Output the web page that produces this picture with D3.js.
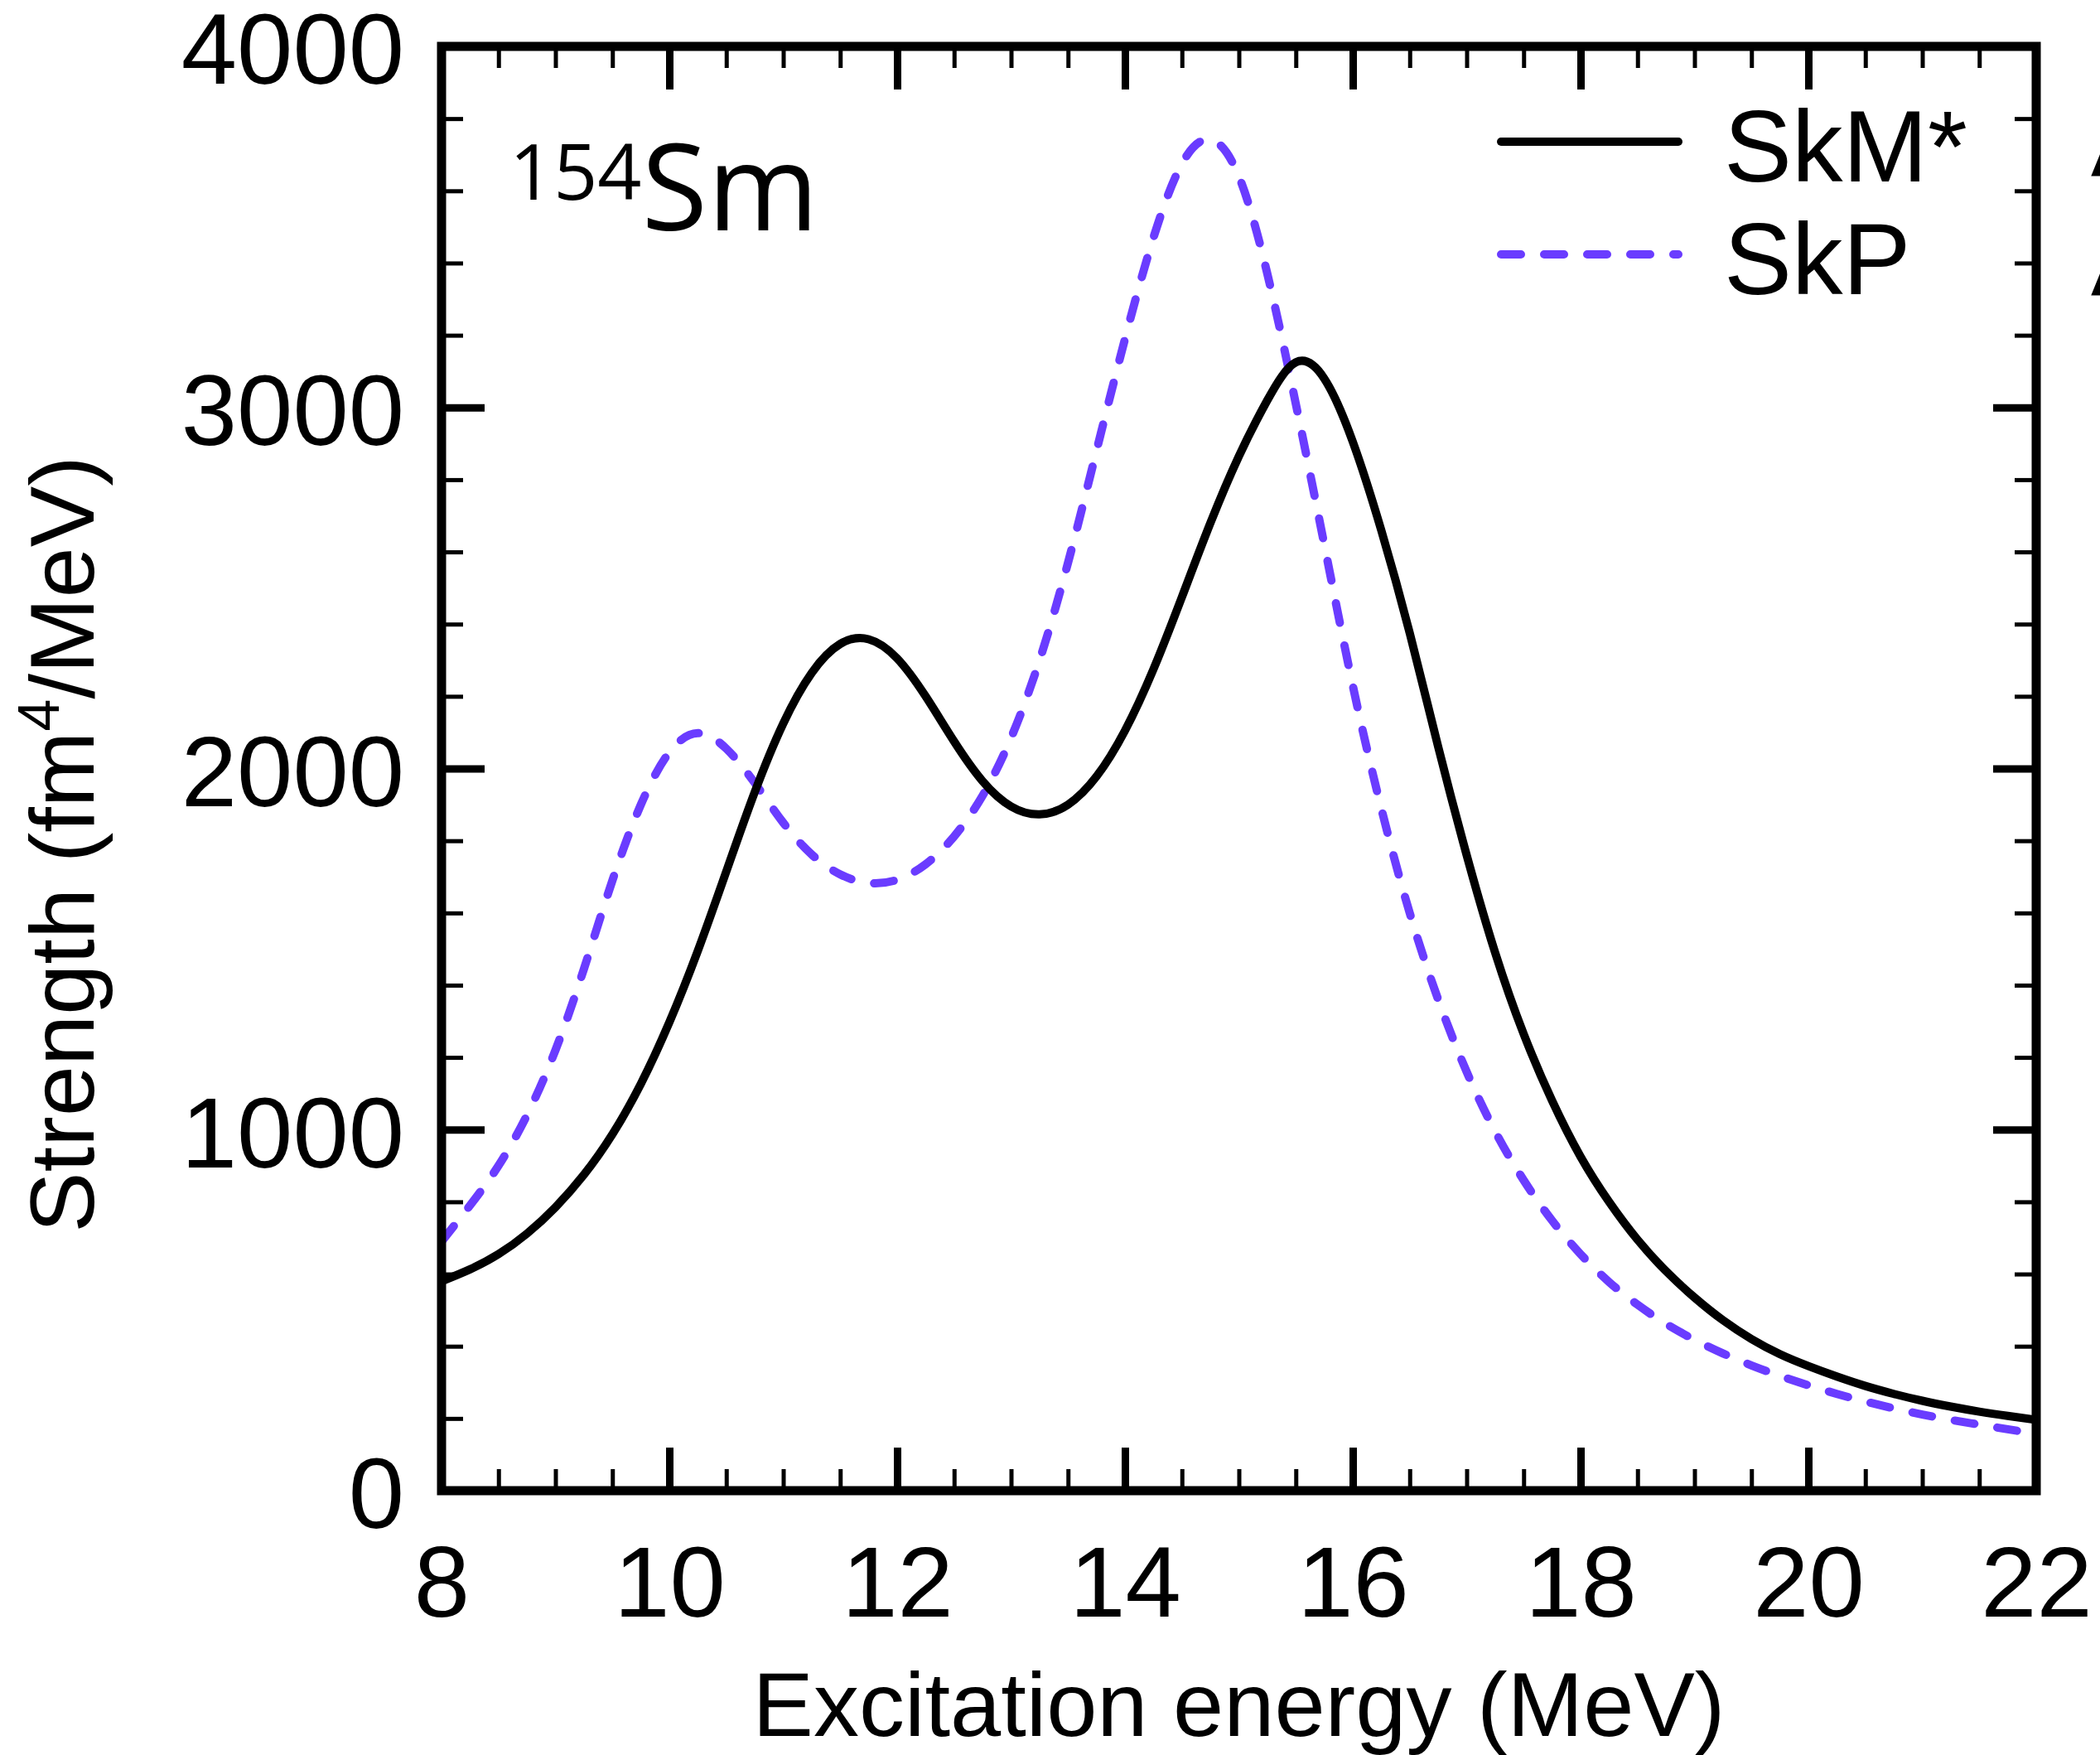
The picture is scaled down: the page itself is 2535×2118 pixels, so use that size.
<!DOCTYPE html>
<html><head><meta charset="utf-8">
<script src="https://cdn.jsdelivr.net/npm/d3@7"></script>
<style>html,body{margin:0;padding:0;background:#fff;} svg{display:block;}</style>
</head><body>
<svg id="chart" width="2535" height="2118"></svg>
<script>
// ---- data ----
const energies = [8.00,8.25,8.50,8.75,9.00,9.25,9.50,9.75,10.00,10.25,10.50,10.75,11.00,11.25,11.50,11.75,
  12.00,12.25,12.50,12.75,13.00,13.25,13.50,13.75,14.00,14.25,14.50,14.75,15.00,15.25,15.50,15.75,
  16.00,16.25,16.50,16.75,17.00,17.25,17.50,17.75,18.00,18.25,18.50,18.75,19.00,19.25,19.50,19.75,
  20.00,20.25,20.50,20.75,21.00,21.25,21.50,21.75,22.00];
const skmStar = [580,613,655,712,785,875,987,1127,1297,1495,1715,1935,2125,2265,2345,2358,
  2305,2200,2075,1965,1895,1873,1900,1978,2105,2275,2475,2680,2865,3020,3125,3080,
  2905,2660,2375,2060,1760,1490,1265,1080,925,800,695,608,535,472,420,378,
  345,316,290,268,249,233,219,207,196];
const skp = [690,790,900,1040,1220,1445,1690,1900,2045,2098,2055,1960,1850,1762,1707,1683,
  1692,1735,1812,1925,2085,2300,2570,2880,3190,3470,3675,3742,3640,3370,3010,2620,
  2230,1890,1600,1360,1160,995,860,748,655,578,515,462,418,380,347,318,
  292,268,247,228,211,196,183,170,158];
const seriesNames = ["SkM*", "SkP"];
const xTickValues = [8,10,12,14,16,18,20,22];
const xMinorValues = [8.5,9,9.5,10.5,11,11.5,12.5,13,13.5,14.5,15,15.5,16.5,17,17.5,18.5,19,19.5,20.5,21,21.5];
const yTickValues = [0,1000,2000,3000,4000];
const yMinorValues = [200,400,600,800,1200,1400,1600,1800,2200,2400,2600,2800,3200,3400,3600,3800];
const xTitle = "Excitation energy (MeV)";
const nucleusMass = "154", nucleusSymbol = "Sm";

// ---- layout ----
const L = 533, R = 2458, T = 56, B = 1799;
const black = "#000", purple = "#6a3cff";
const sans = "'Liberation Sans', Arial, Helvetica, sans-serif";

const x = d3.scaleLinear().domain([8,22]).range([L,R]);
const y = d3.scaleLinear().domain([0,4000]).range([B,T]);
const svg = d3.select("#chart");

svg.append("defs").append("clipPath").attr("id","plotclip")
  .append("rect").attr("x",L).attr("y",T).attr("width",R-L).attr("height",B-T);

const line = d3.line().x((d,i)=>x(energies[i])).y(d=>y(d)).curve(d3.curveNatural);

const curves = svg.append("g").attr("clip-path","url(#plotclip)");
curves.append("path").datum(skp).attr("d",line).attr("fill","none")
  .attr("stroke",purple).attr("stroke-width",10).attr("stroke-dasharray","24,28").attr("stroke-linecap","round");
curves.append("path").datum(skmStar).attr("d",line).attr("fill","none")
  .attr("stroke",black).attr("stroke-width",10).attr("stroke-linejoin","round");

function clean(g, w){
  g.select(".domain").remove();
  g.selectAll(".tick line").attr("stroke",black).attr("stroke-width",w);
  g.selectAll("text").attr("fill",black).attr("font-family",sans).attr("font-size",121);
}
// bottom
svg.append("g").attr("transform",`translate(0,${B})`)
  .call(d3.axisBottom(x).tickValues(xTickValues).tickSize(-52).tickPadding(66).tickFormat(d3.format("d")))
  .call(g=>clean(g,9));
svg.append("g").attr("transform",`translate(0,${B})`)
  .call(d3.axisBottom(x).tickValues(xMinorValues).tickSize(-26).tickFormat(""))
  .call(g=>clean(g,5));
// top
svg.append("g").attr("transform",`translate(0,${T})`)
  .call(d3.axisTop(x).tickValues(xTickValues).tickSize(-52).tickFormat(""))
  .call(g=>clean(g,9));
svg.append("g").attr("transform",`translate(0,${T})`)
  .call(d3.axisTop(x).tickValues(xMinorValues).tickSize(-26).tickFormat(""))
  .call(g=>clean(g,5));
// left
svg.append("g").attr("transform",`translate(${L},0)`)
  .call(d3.axisLeft(y).tickValues(yTickValues).tickSize(-52).tickPadding(45).tickFormat(d3.format("d")))
  .call(g=>{clean(g,9); g.selectAll("text").attr("dy","0.37em");});
svg.append("g").attr("transform",`translate(${L},0)`)
  .call(d3.axisLeft(y).tickValues(yMinorValues).tickSize(-26).tickFormat(""))
  .call(g=>clean(g,5));
// right
svg.append("g").attr("transform",`translate(${R},0)`)
  .call(d3.axisRight(y).tickValues(yTickValues).tickSize(-52).tickFormat(""))
  .call(g=>clean(g,9));
svg.append("g").attr("transform",`translate(${R},0)`)
  .call(d3.axisRight(y).tickValues(yMinorValues).tickSize(-26).tickFormat(""))
  .call(g=>clean(g,5));

// frame
svg.append("rect").attr("x",L).attr("y",T).attr("width",R-L).attr("height",B-T)
  .attr("fill","none").attr("stroke",black).attr("stroke-width",11).attr("stroke-linejoin","miter");

// axis titles
svg.append("text").attr("x",(L+R)/2).attr("y",2095).attr("text-anchor","middle")
  .attr("font-family",sans).attr("font-size",110).attr("fill",black).text(xTitle);
const yt = svg.append("text").attr("transform","translate(113,1019) rotate(-90)").attr("text-anchor","middle")
  .attr("font-family",sans).attr("font-size",110).attr("fill",black);
yt.append("tspan").text("Strength (fm");
yt.append("tspan").attr("font-size",70).attr("dy",-42).text("4");
yt.append("tspan").attr("dy",42).text("/MeV)");

// nucleus label
const nl = svg.append("text").attr("font-family","'Open Sans', 'Noto Sans', sans-serif").attr("fill",black);
nl.append("tspan").attr("x",615).attr("y",241).attr("font-size",93).text(nucleusMass);
nl.append("tspan").attr("y",278).attr("font-size",145).text(nucleusSymbol);

// legend
const legY = [171, 307];
const legend = svg.append("g");
legend.selectAll("path.leg").data(seriesNames).join("path")
  .attr("d",(d,i)=>`M1812,${legY[i]}H2026`).attr("fill","none")
  .attr("stroke",(d,i)=>i===0?black:purple).attr("stroke-width",10).attr("stroke-linecap","round")
  .attr("stroke-dasharray",(d,i)=>i===0?null:"24,28");
legend.selectAll("text.leg").data(seriesNames).join("text")
  .attr("x",2081).attr("y",(d,i)=>legY[i]+48).attr("font-family",sans).attr("font-size",123)
  .attr("fill",black).text(d=>d);

// partially visible labels cut off at the right edge (as in the reference)
svg.selectAll("text.cut").data([213,357]).join("text").attr("class","cut")
  .attr("x",2524).attr("y",d=>d).attr("font-family",sans).attr("font-size",122).attr("fill",black).text("A");
</script>
</body></html>
